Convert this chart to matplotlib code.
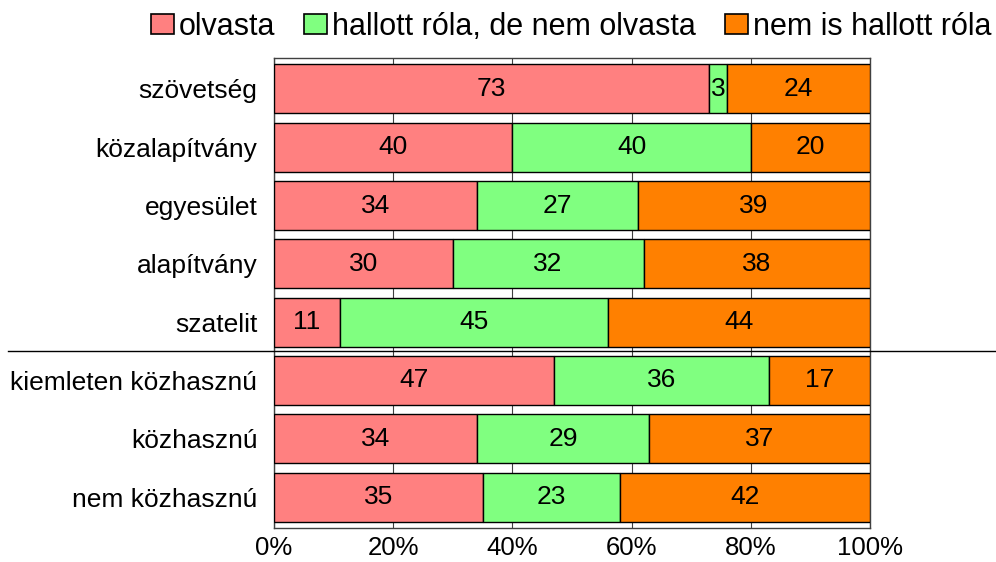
import matplotlib
matplotlib.use("Agg")
import matplotlib.pyplot as plt
import numpy as np
from matplotlib.patches import Patch
from matplotlib.lines import Line2D

plt.rcParams['font.family'] = ['Liberation Sans', 'DejaVu Sans']

categories = ["szövetség", "közalapítvány", "egyesület", "alapítvány", "szatelit",
              "kiemleten közhasznú", "közhasznú", "nem közhasznú"]
olvasta = [73, 40, 34, 30, 11, 47, 34, 35]
hallott = [3, 40, 27, 32, 45, 36, 29, 23]
nem_hallott = [24, 20, 39, 38, 44, 17, 37, 42]
series_names = ["olvasta", "hallott róla, de nem olvasta", "nem is hallott róla"]
colors = ["#FF8080", "#80FF80", "#FF8000"]
xticks = [0, 20, 40, 60, 80, 100]
xticklabels = ["0%", "20%", "40%", "60%", "80%", "100%"]

FS = 19
LFS = 22

fig = plt.figure(figsize=(9.96, 5.62), dpi=100)
ax = fig.add_axes([274/996, 1-528/562, (870-274)/996, (528-58)/562])

y = np.arange(len(categories))
left = np.zeros(len(categories))
for vals, col in zip([olvasta, hallott, nem_hallott], colors):
    vals = np.array(vals, dtype=float)
    ax.barh(y, vals, left=left, height=0.84, color=col, edgecolor="black", linewidth=1.0, zorder=3)
    for yi, (l, v) in enumerate(zip(left, vals)):
        ax.text(l + v/2, yi, f"{int(v)}", ha="center", va="center", fontsize=FS, zorder=4)
    left += vals

ax.set_xlim(0, 100)
ax.set_ylim(len(categories) - 0.47, -0.53)
ax.set_yticks(y)
ax.set_yticklabels(categories, fontsize=FS)
ax.set_xticks(xticks)
ax.set_xticklabels(xticklabels, fontsize=18.5)
ax.tick_params(axis="x", length=0, pad=6)
ax.tick_params(axis="y", length=0, pad=12)
ax.grid(axis="x", color="#404040", linewidth=0.8, zorder=0)
for s in ax.spines.values():
    s.set_color("#404040")
    s.set_linewidth(1.0)

# separator line between groups
sep_y = 4.5
ydisp = ax.transData.transform((0, sep_y))[1]
yfig = fig.transFigure.inverted().transform((0, ydisp))[1]
fig.add_artist(Line2D([8/996, 1.0], [yfig, yfig], color="black", linewidth=1.0))

handles = [Patch(facecolor=c, edgecolor="black", linewidth=1.2) for c in colors]
fig.legend(handles, series_names, loc="center right", bbox_to_anchor=(0.995, 1-27/562),
           ncol=3, frameon=False, fontsize=LFS, handlelength=0.75, handleheight=0.62,
           handletextpad=0.16, columnspacing=0.95, borderaxespad=0.0, borderpad=0.0)

fig.savefig("out.png", dpi=100)
